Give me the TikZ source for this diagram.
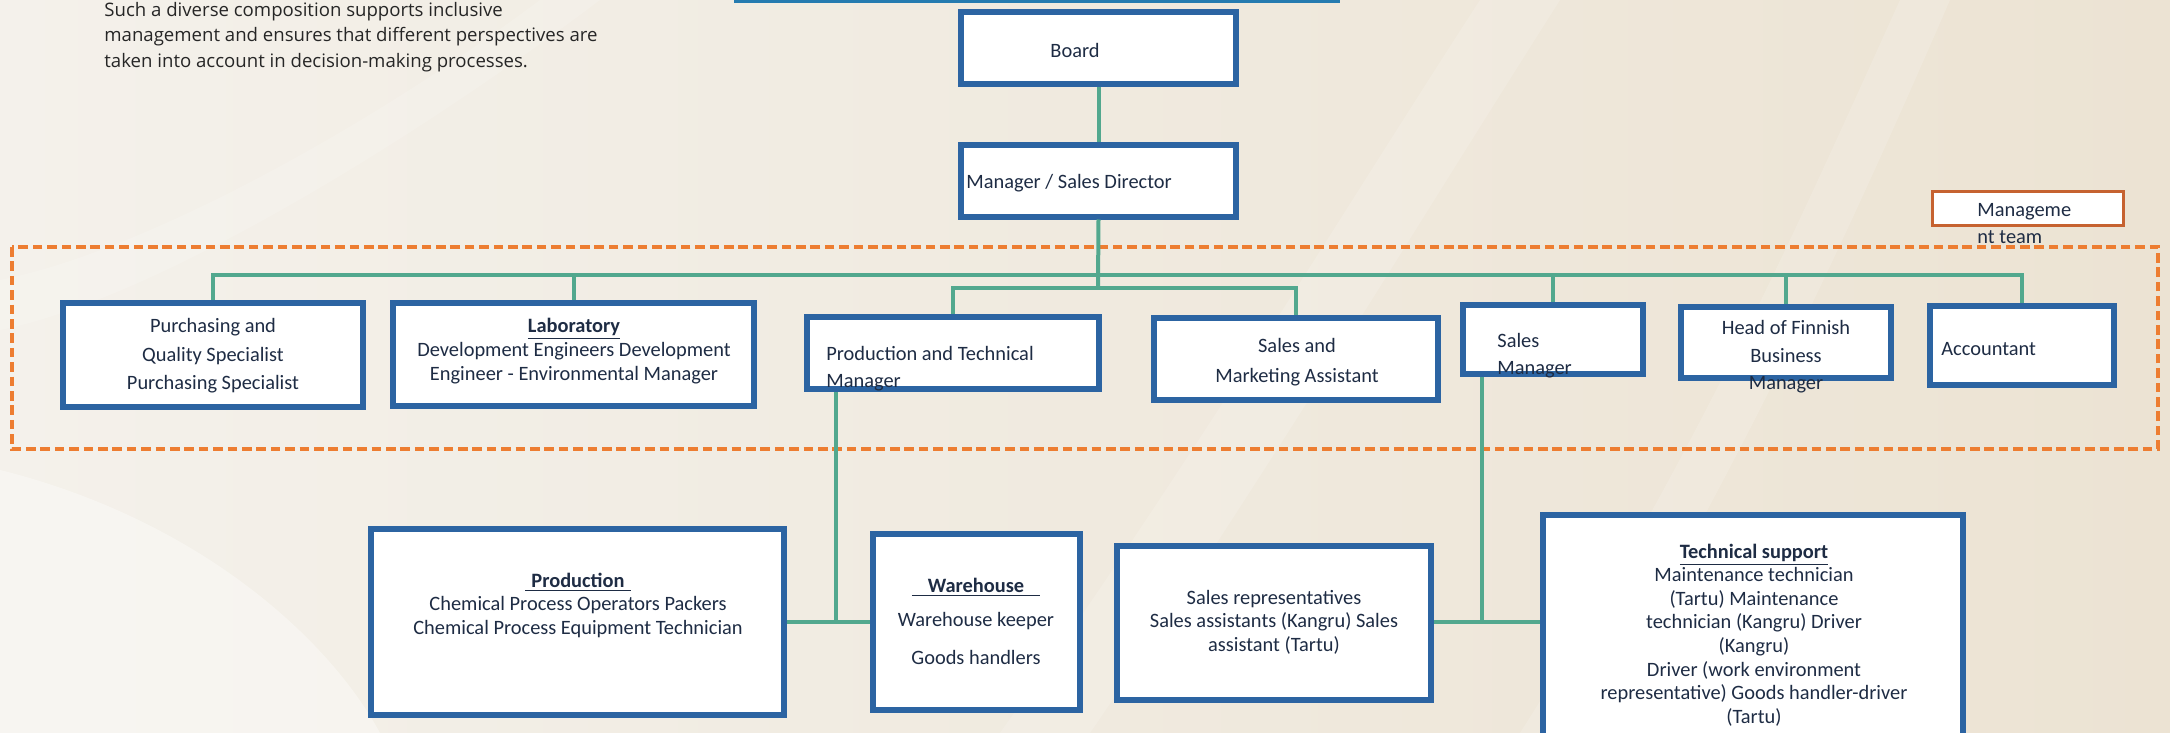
\documentclass[tikz,border=0pt]{standalone}
\usepackage{fontspec}
\setmainfont{Carlito}
\newfontfamily\introfont{Open Sans}
\usepackage{tikz}
\usepackage{xcolor}
\usetikzlibrary{positioning}
\definecolor{boxblue}{RGB}{44,100,162}
\definecolor{inkblue}{RGB}{30,44,68}
\definecolor{linkgreen}{RGB}{82,168,142}
\definecolor{teamorange}{RGB}{237,125,49}
\definecolor{teambrown}{RGB}{198,98,48}
\definecolor{bgleft}{RGB}{244,241,235}
\definecolor{bgright}{RGB}{236,227,211}
\tikzset{
    org-box/.style = {draw=boxblue, fill=white, line width=3pt, rectangle, inner sep=0pt},
    org-text/.style = {text=inkblue, inner sep=0pt, align=center, font=\fontsize{10.2}{#1}\selectfont},
    org-text/.default = 12,
    link-line/.style = {draw=linkgreen, line width=2pt},
    team-frame/.style = {draw=teamorange, line width=1.7pt, dash pattern=on 4.8pt off 2.4pt},
}

\begin{document}
\begin{tikzpicture}[x=0.5pt, y=-0.5pt]
\useasboundingbox (0,0) rectangle (2170,733);
\fill[left color=bgleft, right color=bgright] (0,0) rectangle (2170,733);
\fill[white, opacity=0.35] (0,470) .. controls (200,520) and (330,640) .. (380,733) -- (0,733) -- cycle;
\fill[white, opacity=0.15] (1000,733) .. controls (1200,450) and (1350,200) .. (1480,0) -- (1560,0) .. controls (1420,220) and (1270,470) .. (1090,733) -- cycle;
\fill[white, opacity=0.15] (1520,733) .. controls (1700,450) and (1800,220) .. (1900,0) -- (1950,0) .. controls (1850,230) and (1740,470) .. (1580,733) -- cycle;
\fill[white, opacity=0.15] (600,0) .. controls (400,150) and (150,300) .. (0,330) -- (0,280) .. controls (150,250) and (380,120) .. (540,0) -- cycle;
\fill[boxblue!85!cyan] (734,0) rectangle (1340,3);

\node[org-text, anchor=west, align=left, text=black!85] (intro) at (104,37) [font=\introfont\fontsize{9.3}{12.8}\selectfont]
    {Such a diverse composition supports inclusive\\management and ensures that different perspectives are\\taken into account in decision-making processes.};

\draw[team-frame] (12,247) rectangle (2158,449);

\node[org-box, minimum width=137.5pt, minimum height=36pt] (board) at (1098.5,48) {};
\node[org-box, minimum width=137.5pt, minimum height=35.5pt] (manager) at (1098.5,181) {};
\node[org-box, minimum width=150pt, minimum height=52pt] (purchasing) at (213,355) {};
\node[org-box, minimum width=180.5pt, minimum height=51.5pt] (laboratory) at (573.5,354.5) {};
\node[org-box, minimum width=146pt, minimum height=36pt] (prodtech) at (953,353) {};
\node[org-box, minimum width=142pt, minimum height=41pt] (salesmkt) at (1296,359) {};
\node[org-box, minimum width=90pt, minimum height=34.5pt] (salesmgr) at (1553,339.5) {};
\node[org-box, minimum width=105pt, minimum height=35.5pt] (finnish) at (1786,342.5) {};
\node[org-box, minimum width=92pt, minimum height=39.5pt] (accountant) at (2022,345.5) {};
\node[org-box, minimum width=206.5pt, minimum height=93pt] (production) at (577.5,622) {};
\node[org-box, minimum width=103.5pt, minimum height=88pt] (warehouse) at (976.5,622) {};
\node[org-box, minimum width=157pt, minimum height=77pt] (salesrep) at (1274,623) {};
\node[org-box, minimum width=210pt, minimum height=111pt] (techsupport) at (1753,626) {};
\node[org-box, draw=teambrown, line width=1.5pt, minimum width=95.5pt, minimum height=17pt] (team) at (2028,208.5) {};

\coordinate (bus) at (1098,275);
\coordinate (subbus) at (1098,288);
\coordinate (ptdrop) at (836,622);
\coordinate (smdrop) at (1482,622);
\draw[link-line] (board) -- (manager);
\draw[link-line] (manager.south) -- (subbus);
\draw[link-line] (purchasing.north) |- (bus) -| (accountant.north);
\draw[link-line] (laboratory.north) -- (laboratory.north |- bus);
\draw[link-line] (salesmgr.north) -- (salesmgr.north |- bus);
\draw[link-line] (finnish.north) -- (finnish.north |- bus);
\draw[link-line] (prodtech.north) |- (subbus) -| (salesmkt.north);
\draw[link-line] (prodtech.south -| ptdrop) -- (ptdrop);
\draw[link-line] (production.east |- ptdrop) -- (warehouse.west |- ptdrop);
\draw[link-line] (salesmgr.south -| smdrop) -- (smdrop);
\draw[link-line] (salesrep.east |- smdrop) -- (techsupport.west |- smdrop);

\node[org-text] (board-label) at (1075,50) {Board};
\node[org-text, anchor=west, align=left] (manager-label) at (966,183) {Manager / Sales Director};
\node[org-text=14.25] (purchasing-label) at (213,356) {Purchasing and\\Quality Specialist\\Purchasing Specialist};
\node[org-text=12] (laboratory-label) at (574,351) {\underline{\textbf{Laboratory}}\\Development Engineers Development\\Engineer - Environmental Manager};
\node[org-text=13.5, anchor=west, align=left] (prodtech-label) at (826,369) {Production and Technical\\Manager};
\node[org-text=15] (salesmkt-label) at (1297,362) {Sales and\\Marketing Assistant};
\node[org-text=13.5, anchor=west, align=left] (salesmgr-label) at (1497,356) {Sales\\Manager};
\node[org-text=13.75] (finnish-label) at (1786,357) {Head of Finnish\\Business\\Manager};
\node[org-text, anchor=west, align=left] (accountant-label) at (1941,349) {Accountant};
\node[org-text=13.5, anchor=west, align=left] (team-label) at (1977,224) {Manageme\\nt team};
\node[org-text=11.75] (production-label) at (578,605) {\underline{\hspace{3pt}\textbf{Production}\hspace{3pt}}\\Chemical Process Operators Packers\\Chemical Process Equipment Technician};
\node[org-text=12] (warehouse-label) at (976,621) {\underline{\hspace{8pt}\textbf{Warehouse}\hspace{8pt}}\\[5pt]Warehouse keeper\\[7pt]Goods handlers};
\node[org-text=11.75] (salesrep-label) at (1274,622) {Sales representatives\\Sales assistants (Kangru) Sales\\assistant (Tartu)};
\node[org-text=11.8] (techsupport-label) at (1754,635) {\underline{\textbf{Technical support}}\\Maintenance technician\\(Tartu) Maintenance\\technician (Kangru) Driver\\(Kangru)\\Driver (work environment\\representative) Goods handler-driver\\(Tartu)};
\end{tikzpicture}
\end{document}
